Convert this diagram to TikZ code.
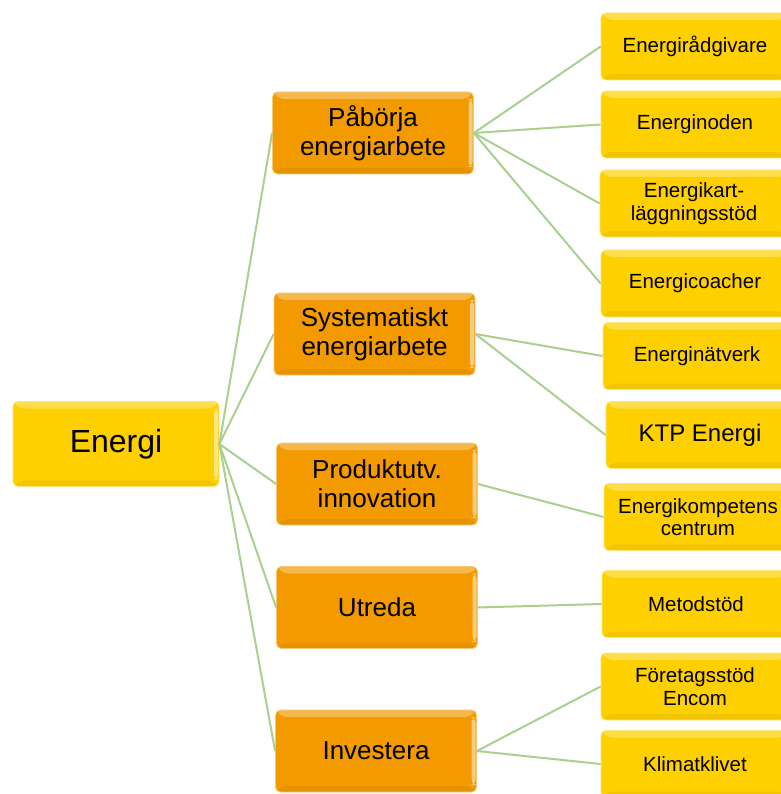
\documentclass[tikz,border=0pt]{standalone}
\usepackage{fontspec}
\setmainfont{Liberation Sans}
\definecolor{gold}{HTML}{FFD000}
\definecolor{amber}{HTML}{F29A00}
\definecolor{leaf}{HTML}{A9D08E}

\tikzset{
  box/.style={rounded corners=5pt, inner sep=0pt, align=center,
    fill=#1, draw=#1!55!white, line width=0.8pt,
    path picture={
      \fill[white,opacity=0.3] (path picture bounding box.north west)
        -- (path picture bounding box.north east)
        -- ([shift={(-7pt,-7pt)}]path picture bounding box.north east)
        -- ([shift={(7pt,-7pt)}]path picture bounding box.north west) -- cycle;
      \fill[white,opacity=0.5] ([shift={(-5pt,-7pt)}]path picture bounding box.north east)
        rectangle ([shift={(-1pt,7pt)}]path picture bounding box.south east);
      \fill[black,opacity=0.05] (path picture bounding box.south west)
        -- (path picture bounding box.south east)
        -- ([shift={(-7pt,6pt)}]path picture bounding box.south east)
        -- ([shift={(7pt,6pt)}]path picture bounding box.south west) -- cycle;
    }},
  root/.style={box=gold, minimum width=206pt, minimum height=85pt,
    font=\fontsize{32}{36}\selectfont},
  phase/.style={box=amber, minimum width=201pt, minimum height=82pt,
    font=\fontsize{26}{29}\selectfont},
  support/.style={box=gold, minimum width=188pt, minimum height=67pt,
    font=\fontsize{20.5}{22.5}\selectfont},
  link/.style={draw=leaf, line width=2pt}
}

\begin{document}
\begin{tikzpicture}[x=1pt,y=-1pt]
\useasboundingbox (0,0) rectangle (780,794);

% Root
\node[root] (energi) at (116,444) {Energi};

% Phases
\node[phase] (paborja) at (373,133) {Påbörja\\energiarbete};
\node[phase] (system) at (374.5,334) {Systematiskt\\energiarbete};
\node[phase] (produkt) at (377,484) {Produktutv.\\innovation};
\node[phase] (utreda) at (377,607.5) {Utreda};
\node[phase] (invest) at (376,751) {Investera};

% Support
\foreach \nm/\cx/\cy/\txt in {radgivare/695/46.5/Energirådgivare,
    noden/695/124.5/Energinoden, kart/694/203.5/{Energikart-\\läggningsstöd},
    coacher/695/283.5/Energicoacher, natverk/697/356/Energinätverk,
    kompetens/698/517/{Energikompetens\\centrum}, metod/696/604/Metodstöd,
    encom/695/686.5/{Företagsstöd\\Encom}, klimat/695/764/Klimatklivet} {
    \node[support] (\nm) at (\cx,\cy) {\txt};
}
\node[support, font=\fontsize{24}{26}\selectfont] (ktp) at (700,435) {KTP Energi};

% Links
\foreach \p in {paborja,system,produkt,utreda,invest}
    \draw[link] (energi.east) -- (\p.west);
\draw[link] (paborja.east) -- (radgivare.west);
\draw[link] (paborja.east) -- (noden.west);
\draw[link] (paborja.east) -- (kart.west);
\draw[link] (paborja.east) -- (coacher.west);
\draw[link] (system.east) -- (natverk.west);
\draw[link] (system.east) -- (ktp.west);
\draw[link] (produkt.east) -- (kompetens.west);
\draw[link] (utreda.east) -- (metod.west);
\draw[link] (invest.east) -- (encom.west);
\draw[link] (invest.east) -- (klimat.west);
\end{tikzpicture}
\end{document}
